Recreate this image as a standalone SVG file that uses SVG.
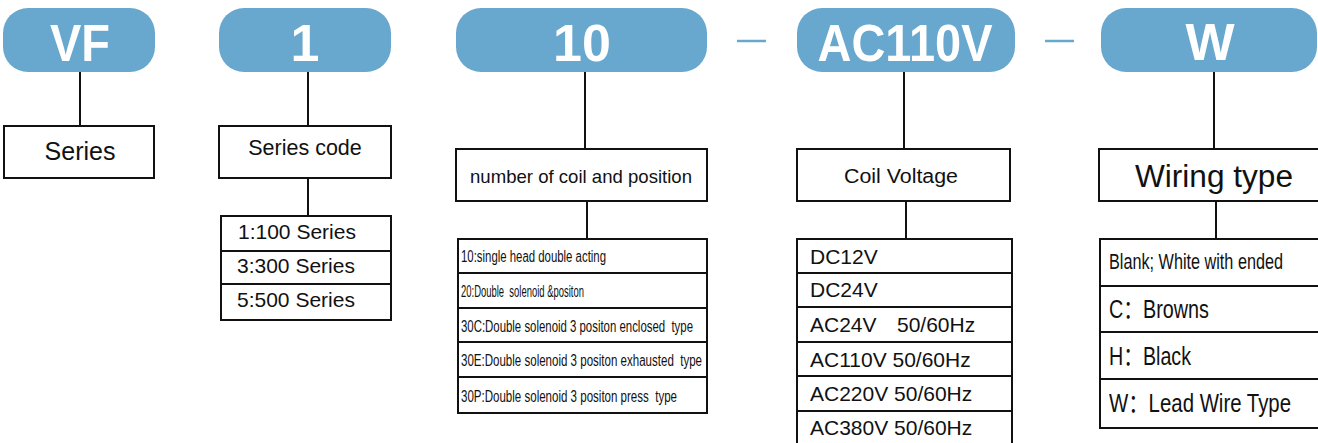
<svg xmlns="http://www.w3.org/2000/svg" width="1318" height="443" viewBox="0 0 1318 443">
<style>
.pill{fill:#68a8ce;}
.pt{font-family:"Liberation Sans",Arial,sans-serif;font-weight:bold;font-size:52px;fill:#fff;text-anchor:middle;}
.box{fill:#fff;stroke:#111;stroke-width:2;}
.div{stroke:#111;stroke-width:2;}
.con{stroke:#111;stroke-width:2;fill:none;}
.sep{stroke:#68a8ce;stroke-width:2.5;}
.t{font-family:"Liberation Sans",Arial,"Noto Sans CJK SC",sans-serif;fill:#111;}
.pre{white-space:pre;}
</style>
<rect width="1318" height="443" fill="#fff"/>
<g id="connectors">
<line class="con" x1="80" y1="72" x2="80" y2="126"/>
<line class="con" x1="308" y1="72" x2="308" y2="126"/>
<line class="con" x1="308" y1="178" x2="308" y2="216"/>
<line class="con" x1="585" y1="72" x2="585" y2="149"/>
<line class="con" x1="587" y1="201" x2="587" y2="239"/>
<line class="con" x1="904" y1="72" x2="904" y2="149"/>
<line class="con" x1="906" y1="201" x2="906" y2="239"/>
<line class="con" x1="1214" y1="72" x2="1214" y2="149"/>
<line class="con" x1="1216" y1="201" x2="1216" y2="239"/>
</g>
<g id="separators">
<line class="sep" x1="737" y1="41" x2="766" y2="41"/>
<line class="sep" x1="1045" y1="41" x2="1074" y2="41"/>
</g>
<g id="pill-vf">
<rect class="pill" x="3" y="8" width="152" height="64" rx="25"/>
<text class="pt" x="80" y="61" textLength="60" lengthAdjust="spacingAndGlyphs">VF</text>
</g>
<g id="pill-1">
<rect class="pill" x="219" y="8" width="172" height="64" rx="25"/>
<text class="pt" x="305" y="61">1</text>
</g>
<g id="pill-10">
<rect class="pill" x="456" y="8" width="251" height="64" rx="25"/>
<text class="pt" x="582" y="61">10</text>
</g>
<g id="pill-ac110v">
<rect class="pill" x="797" y="8" width="218" height="64" rx="25"/>
<text class="pt" x="905" y="61" textLength="175" lengthAdjust="spacingAndGlyphs">AC110V</text>
</g>
<g id="pill-w">
<rect class="pill" x="1101" y="8" width="216" height="64" rx="25"/>
<text class="pt" x="1210" y="60">W</text>
</g>
<g id="box-series">
<rect class="box" x="4" y="126" width="150" height="52"/>
<text class="t" x="80" y="160" font-size="25" text-anchor="middle">Series</text>
</g>
<g id="box-series-code">
<rect class="box" x="219" y="126" width="172" height="52"/>
<text class="t" x="305" y="155" font-size="21.5" text-anchor="middle">Series code</text>
</g>
<g id="list-series">
<rect class="box" x="221" y="216" width="170" height="104"/>
<line class="div" x1="221" y1="251" x2="391" y2="251"/>
<line class="div" x1="221" y1="284" x2="391" y2="284"/>
<text class="t" x="238" y="239" font-size="21">1:100 Series</text>
<text class="t" x="237" y="273" font-size="21">3:300 Series</text>
<text class="t" x="237" y="307" font-size="21">5:500 Series</text>
</g>
<g id="box-number">
<rect class="box" x="456" y="149" width="251" height="52"/>
<text class="t" x="470" y="183" font-size="19" textLength="222" lengthAdjust="spacingAndGlyphs">number of coil and position</text>
</g>
<g id="list-number">
<rect class="box" x="458" y="239" width="249" height="174"/>
<line class="div" x1="458" y1="273" x2="707" y2="273"/>
<line class="div" x1="458" y1="308" x2="707" y2="308"/>
<line class="div" x1="458" y1="342" x2="707" y2="342"/>
<line class="div" x1="458" y1="377" x2="707" y2="377"/>
<text class="t pre" x="461" y="262" font-size="16" textLength="145" lengthAdjust="spacingAndGlyphs">10:single head double acting</text>
<text class="t pre" x="461" y="297" font-size="16" textLength="123" lengthAdjust="spacingAndGlyphs">20:Double  solenoid &amp;positon</text>
<text class="t pre" x="461" y="332" font-size="16" textLength="232" lengthAdjust="spacingAndGlyphs">30C:Double solenoid 3 positon enclosed  type</text>
<text class="t pre" x="461" y="366" font-size="16" textLength="241" lengthAdjust="spacingAndGlyphs">30E:Double solenoid 3 positon exhausted  type</text>
<text class="t pre" x="461" y="402" font-size="16" textLength="216" lengthAdjust="spacingAndGlyphs">30P:Double solenoid 3 positon press  type</text>
</g>
<g id="box-coil">
<rect class="box" x="797" y="149" width="213" height="52"/>
<text class="t" x="844" y="183" font-size="20" textLength="114" lengthAdjust="spacingAndGlyphs">Coil Voltage</text>
</g>
<g id="list-coil">
<rect class="box" x="797" y="239" width="215" height="210"/>
<line class="div" x1="797" y1="273" x2="1012" y2="273"/>
<line class="div" x1="797" y1="307" x2="1012" y2="307"/>
<line class="div" x1="797" y1="342" x2="1012" y2="342"/>
<line class="div" x1="797" y1="376" x2="1012" y2="376"/>
<line class="div" x1="797" y1="411" x2="1012" y2="411"/>
<text class="t" x="810" y="264" font-size="21">DC12V</text>
<text class="t" x="810" y="297" font-size="21">DC24V</text>
<text class="t" x="810" y="332" font-size="21">AC24V<tspan x="897">50/60Hz</tspan></text>
<text class="t" x="810" y="367" font-size="21">AC110V 50/60Hz</text>
<text class="t" x="810" y="401" font-size="21">AC220V 50/60Hz</text>
<text class="t" x="810" y="435" font-size="21">AC380V 50/60Hz</text>
</g>
<g id="box-wiring">
<rect class="box" x="1099" y="149" width="220" height="52"/>
<text class="t" x="1135" y="187" font-size="31" textLength="158" lengthAdjust="spacingAndGlyphs">Wiring type</text>
</g>
<g id="list-wiring">
<rect class="box" x="1100" y="239" width="219" height="189"/>
<line class="div" x1="1100" y1="286" x2="1318" y2="286"/>
<line class="div" x1="1100" y1="332" x2="1318" y2="332"/>
<line class="div" x1="1100" y1="379" x2="1318" y2="379"/>
<text class="t" x="1109" y="269" font-size="22" textLength="174" lengthAdjust="spacingAndGlyphs">Blank; White with ended</text>
<text class="t" x="1109" y="318" font-size="25" textLength="100" lengthAdjust="spacingAndGlyphs">C：Browns</text>
<text class="t" x="1109" y="365" font-size="25" textLength="82" lengthAdjust="spacingAndGlyphs">H：Black</text>
<text class="t" x="1109" y="412" font-size="25" textLength="182" lengthAdjust="spacingAndGlyphs">W：Lead Wire Type</text>
</g>
</svg>
